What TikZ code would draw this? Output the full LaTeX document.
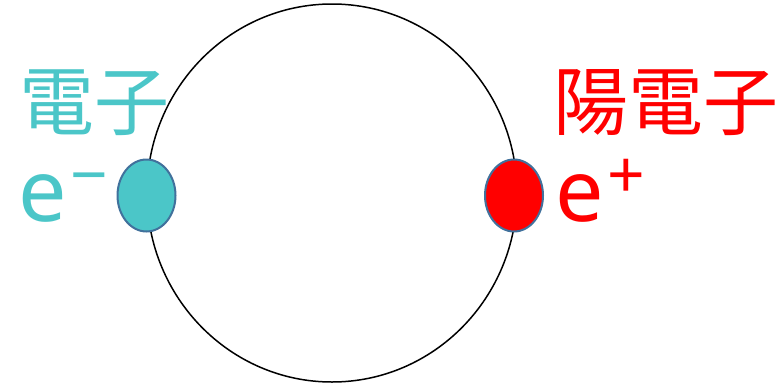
\documentclass[tikz,border=0pt]{standalone}
\usepackage{fontspec}
\setmainfont{Noto Sans CJK JP}
\newfontfamily\symfont{Noto Sans}
\usetikzlibrary{shapes.geometric}
\definecolor{electroncyan}{RGB}{75,198,200}
\definecolor{edgeblue}{RGB}{65,113,156}
\tikzset{
  particle/.style={ellipse, draw=edgeblue, line width=2pt, minimum width=58pt, minimum height=72pt, inner sep=0pt},
  bigtext/.style={font=\fontsize{75}{75}\selectfont, inner sep=0pt, anchor=base west},
  symtext/.style={font=\symfont\fontsize{86}{86}\selectfont, inner sep=0pt, anchor=base west}
}
\newcommand{\chargesup}[1]{\hspace{4pt}\raisebox{23pt}{\fontsize{66}{66}\selectfont #1}}

\begin{document}
\begin{tikzpicture}[x=1pt,y=-1pt]
  \useasboundingbox (0,0) rectangle (781,386);
  % orbit
  \draw[line width=1.5pt] (332,193) ellipse [x radius=185, y radius=189];
  % particles
  \node[particle, fill=electroncyan] (electron) at (146.5,195.5) {};
  \node[particle, fill=red] (positron) at (514,195.5) {};
  % labels
  \node[bigtext, text=electroncyan] (electronname) at (19,129) {電子};
  \node[symtext, text=electroncyan] (electronsym) at (18,221) {e\chargesup{−}};
  \node[bigtext, text=red] (positronname) at (553,129) {陽電子};
  \node[symtext, text=red] (positronsym) at (555,221) {e\chargesup{+}};
\end{tikzpicture}
\end{document}
